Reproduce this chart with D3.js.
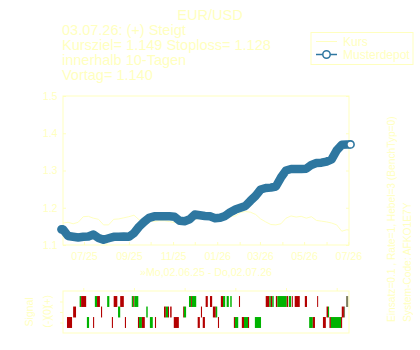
<!doctype html>
<html lang="de">
<head>
<meta charset="utf-8">
<title>EUR/USD</title>
<script src="https://d3js.org/d3.v7.min.js"></script>
<style>
  body { margin: 0; background: #fff; }
  svg { display: block; font-family: "Liberation Sans", Arial, sans-serif; }
  .txt { fill: #ffffbf; }
  .axis line, .axis path { stroke: #ffffbf; }
  .axis text { fill: #ffffbf; font-size: 10.6px; font-family: "Liberation Sans", Arial, sans-serif; }
</style>
</head>
<body>
<div id="chart"></div>
<script>
// date range of the chart
const startDate = new Date(Date.UTC(2025, 5, 2));
const endDate = new Date(Date.UTC(2026, 6, 2));

// weekly values (last one = 02.07.26)
const kurs = [1.159, 1.161, 1.157, 1.161, 1.176, 1.177, 1.172, 1.169, 1.154, 1.154,
  1.169, 1.170, 1.173, 1.176, 1.180, 1.168, 1.164, 1.166, 1.163, 1.165,
  1.165, 1.163, 1.160, 1.173, 1.170, 1.169, 1.169, 1.172, 1.172, 1.173,
  1.170, 1.172, 1.172, 1.177, 1.178, 1.187, 1.190, 1.188, 1.182, 1.170,
  1.162, 1.155, 1.154, 1.157, 1.172, 1.178, 1.175, 1.177, 1.172, 1.176,
  1.166, 1.164, 1.162, 1.159, 1.154, 1.137, 1.141, 1.140];

const depot = [1.142, 1.124, 1.122, 1.120, 1.122, 1.123, 1.128, 1.119, 1.114, 1.118,
  1.122, 1.122, 1.123, 1.122, 1.132, 1.149, 1.162, 1.173, 1.177, 1.177,
  1.177, 1.177, 1.176, 1.165, 1.164, 1.169, 1.182, 1.180, 1.178, 1.177,
  1.172, 1.173, 1.178, 1.188, 1.195, 1.200, 1.205, 1.219, 1.232, 1.249,
  1.253, 1.254, 1.257, 1.281, 1.300, 1.304, 1.304, 1.304, 1.305, 1.315,
  1.320, 1.321, 1.324, 1.330, 1.354, 1.369, 1.370, 1.370];

const yTicks = [1.1, 1.2, 1.3, 1.4, 1.5];

const titleText = 'EUR/USD';
const infoLines = ['03.07.26: (+) Steigt', 'Kursziel= 1.149  Stoploss= 1.128',
  'innerhalb 10-Tagen', 'Vortag= 1.140'];
const xTitle = '\u00bbMo,02.06.25 - Do,02.07.26';
const sideLines = ['Einsatz=0.1 , Rate=1, Hebel=3 (BenchTyp=0)', 'System-Code: AFKO1E7Y'];
const legendNames = ['Kurs', 'Musterdepot'];

// signal panel
const signalRows = [1, 0, -1];
const signalLabels = ['(+)', '(0)', '(-)'];
const signalTickDates = ['2025-06-30', '2025-09-08', '2025-11-17', '2026-01-26', '2026-04-06', '2026-06-15'];
// [row, from day, to day, kind]  (days since 02.06.25)
const signalBars = [
  [1, 23, 25, 'g'], [1, 25, 32, 'r'], [1, 44, 47, 'g'], [1, 47, 51, 'r'], [1, 61, 64, 'g'],
  [1, 70, 75, 'r'], [1, 79, 84, 'r'], [1, 95, 97, 'g'], [1, 97, 98.5, 'r'], [1, 98.5, 104, 'g'],
  [1, 174, 177, 'g'], [1, 177, 178, 'r'], [1, 178, 184, 'g'], [1, 197, 200, 'r'], [1, 203, 206, 'r'],
  [1, 218, 221, 'r'], [1, 221, 224, 'g'], [1, 226, 229, 'g'], [1, 231, 233, 'g'], [1, 243, 244.5, 'r'],
  [1, 280, 285, 'r'], [1, 285, 287, 'g'], [1, 287, 289, 'r'], [1, 289, 291, 'g'], [1, 294, 296, 'r'],
  [1, 296, 309, 'g'], [1, 309, 311, 'r'], [1, 312, 315, 'g'], [1, 316, 317, 'r'], [1, 320, 327, 'r'],
  [1, 334, 337, 'r'], [1, 351, 352, 'r'], [1, 391, 394, 'n'],
  [0, 14, 18, 'r'], [0, 52.5, 54, 'r'], [0, 76, 79, 'g'], [0, 115, 117, 'g'], [0, 139.5, 142, 'r'],
  [0, 142, 145, 'g'], [0, 145, 146, 'r'], [0, 148, 150, 'r'], [0, 166, 167, 'r'], [0, 167, 170, 'g'],
  [0, 190.5, 192, 'r'], [0, 207, 211, 'r'], [0, 211, 213, 'g'], [0, 364, 366, 'r'], [0, 366, 367.5, 'g'],
  [0, 385, 388, 'r'], [0, 388, 389.5, 'n'],
  [-1, 5.5, 12.5, 'r'], [-1, 33, 36, 'g'], [-1, 41.5, 43, 'r'], [-1, 67.5, 69, 'r'], [-1, 85.5, 87, 'r'],
  [-1, 103.5, 105, 'r'], [-1, 105, 109, 'g'], [-1, 109, 113, 'r'], [-1, 120, 124, 'g'], [-1, 127, 128.5, 'r'],
  [-1, 153, 160, 'r'], [-1, 186, 189, 'r'], [-1, 193, 196, 'r'], [-1, 214, 215.5, 'r'], [-1, 236, 237.5, 'r'],
  [-1, 237.5, 242, 'g'], [-1, 247, 250, 'r'], [-1, 250, 255.5, 'g'], [-1, 255.5, 257, 'r'], [-1, 265, 273.5, 'g'],
  [-1, 340, 345, 'g'], [-1, 345, 348, 'r'], [-1, 359, 363, 'r'], [-1, 368, 370, 'r'], [-1, 370, 384, 'g'],
  [-1, 384, 385.5, 'r']
];

const pale = '#ffffbf';
const blue = '#2e77a0';
const barColor = { r: '#b30000', g: '#00b300', n: '#7f7f5f' };

const width = 420, height = 350;
const plot = { left: 63, right: 349, top: 96, bottom: 245 };
const sig = { top: 291, bottom: 333 };

const seriesDates = d3.utcDay.range(startDate, endDate, 7);
seriesDates.push(endDate);
const dayDate = d => new Date(startDate.getTime() + d * 864e5);

const svg = d3.select('#chart').append('svg')
  .attr('width', width)
  .attr('height', height);

const x = d3.scaleUtc().domain([startDate, endDate]).range([plot.left, plot.right]);
const y = d3.scaleLinear().domain([1.1, 1.5]).range([plot.bottom, plot.top]);
const ys = d3.scaleLinear().domain([-2, 2]).range([sig.bottom, sig.top]);

// titles
svg.append('text').attr('class', 'txt')
  .attr('x', 210).attr('y', 20)
  .attr('text-anchor', 'middle')
  .style('font-size', '14.5px')
  .text(titleText);

svg.append('g').selectAll('text')
  .data(infoLines)
  .join('text')
  .attr('class', 'txt')
  .attr('x', 62)
  .attr('y', (d, i) => 35 + i * 15)
  .style('font-size', '14.5px')
  .text(d => d);

// main plot box
svg.append('rect')
  .attr('x', plot.left).attr('y', plot.top)
  .attr('width', plot.right - plot.left).attr('height', plot.bottom - plot.top)
  .attr('fill', 'none').attr('stroke', pale);

svg.append('g').attr('class', 'axis')
  .attr('transform', `translate(${plot.left},0)`)
  .call(d3.axisLeft(y).tickValues(yTicks).tickSizeInner(-3).tickSizeOuter(0)
    .tickPadding(5.5).tickFormat(d3.format('.1f')))
  .call(g => g.select('.domain').remove());

svg.append('g').attr('class', 'axis')
  .attr('transform', `translate(${plot.right},0)`)
  .call(d3.axisRight(y).tickValues(yTicks).tickSizeInner(-3).tickSizeOuter(0).tickFormat(''))
  .call(g => g.select('.domain').remove());

const monthFmt = d3.utcFormat('%m/%y');
svg.append('g').attr('class', 'axis')
  .attr('transform', `translate(0,${plot.bottom})`)
  .call(d3.axisBottom(x).ticks(d3.utcMonth.every(1)).tickSizeInner(-3).tickSizeOuter(0)
    .tickPadding(7).tickFormat(d => d.getUTCMonth() % 2 === 0 ? monthFmt(d) : ''))
  .call(g => g.select('.domain').remove());

svg.append('text').attr('class', 'txt')
  .attr('x', 206).attr('y', 276)
  .attr('text-anchor', 'middle')
  .style('font-size', '10.6px')
  .text(xTitle);

// series
const seriesLine = d3.line().x((d, i) => x(seriesDates[i])).y(d => y(d));
svg.append('path')
  .datum(kurs)
  .attr('d', seriesLine)
  .attr('fill', 'none')
  .attr('stroke', pale)
  .attr('stroke-width', 1);

svg.append('path')
  .datum(depot)
  .attr('d', seriesLine)
  .attr('fill', 'none')
  .attr('stroke', blue)
  .attr('stroke-width', 8.5)
  .attr('stroke-linejoin', 'round')
  .attr('stroke-linecap', 'round');

// open circles at both ends of the depot band
svg.append('g').selectAll('circle')
  .data([0, depot.length - 1])
  .join('circle')
  .attr('cx', i => x(seriesDates[i]) + (i === 0 ? -1.5 : 1.5))
  .attr('cy', i => y(depot[i]))
  .attr('r', 3.6)
  .attr('fill', i => i === 0 ? blue : '#fff')
  .attr('stroke', blue)
  .attr('stroke-width', 1.6);

// legend
const legend = svg.append('g').attr('transform', 'translate(311,32.5)');
legend.append('rect')
  .attr('width', 102).attr('height', 32)
  .attr('fill', 'none').attr('stroke', pale);
legend.append('line')
  .attr('x1', 5).attr('x2', 26).attr('y1', 9).attr('y2', 9)
  .attr('stroke', pale);
legend.append('line')
  .attr('x1', 5).attr('x2', 26).attr('y1', 22).attr('y2', 22)
  .attr('stroke', blue).attr('stroke-width', 1.5);
legend.append('circle')
  .attr('cx', 15.5).attr('cy', 22).attr('r', 3.7)
  .attr('fill', '#fff').attr('stroke', blue).attr('stroke-width', 1.5);
legend.selectAll('text.name')
  .data(legendNames)
  .join('text')
  .attr('class', 'txt name')
  .attr('x', 32)
  .attr('y', (d, i) => 13.3 + i * 13.3)
  .style('font-size', '12px')
  .text(d => d);

// right side notes
svg.append('g').selectAll('text')
  .data(sideLines)
  .join('text')
  .attr('class', 'txt')
  .attr('transform', (d, i) => `translate(${394.5 + i * 16.5},322) rotate(-90)`)
  .style('font-size', '10.2px')
  .text(d => d);

// signal panel
svg.append('g').selectAll('rect')
  .data(signalBars)
  .join('rect')
  .attr('x', d => x(dayDate(d[1])))
  .attr('width', d => Math.max(1, x(dayDate(d[2])) - x(dayDate(d[1]))))
  .attr('y', d => ys(d[0] + 0.52))
  .attr('height', d => ys(d[0] - 0.52) - ys(d[0] + 0.52))
  .attr('fill', d => barColor[d[3]]);

svg.append('rect')
  .attr('x', plot.left).attr('y', sig.top)
  .attr('width', plot.right - plot.left).attr('height', sig.bottom - sig.top)
  .attr('fill', 'none').attr('stroke', pale);

svg.append('g').attr('class', 'axis')
  .attr('transform', `translate(0,${sig.top})`)
  .call(d3.axisTop(x).tickValues(signalTickDates.map(s => new Date(s + 'T00:00:00Z')))
    .tickSizeInner(3).tickSizeOuter(0).tickFormat(''))
  .call(g => g.select('.domain').remove());

svg.append('g').attr('class', 'axis')
  .attr('transform', `translate(${plot.left},0)`)
  .call(d3.axisLeft(ys).tickValues(signalRows).tickSizeInner(3).tickSizeOuter(0).tickFormat(''))
  .call(g => g.select('.domain').remove());

svg.append('g').selectAll('text')
  .data(signalLabels)
  .join('text')
  .attr('class', 'txt')
  .attr('transform', (d, i) => `translate(51,${ys(signalRows[i])}) rotate(-90)`)
  .attr('text-anchor', 'middle')
  .style('font-size', '10.5px')
  .text(d => d);

svg.append('text').attr('class', 'txt')
  .attr('transform', `translate(33,${(sig.top + sig.bottom) / 2}) rotate(-90)`)
  .attr('text-anchor', 'middle')
  .style('font-size', '10.5px')
  .text('Signal');
</script>
</body>
</html>
